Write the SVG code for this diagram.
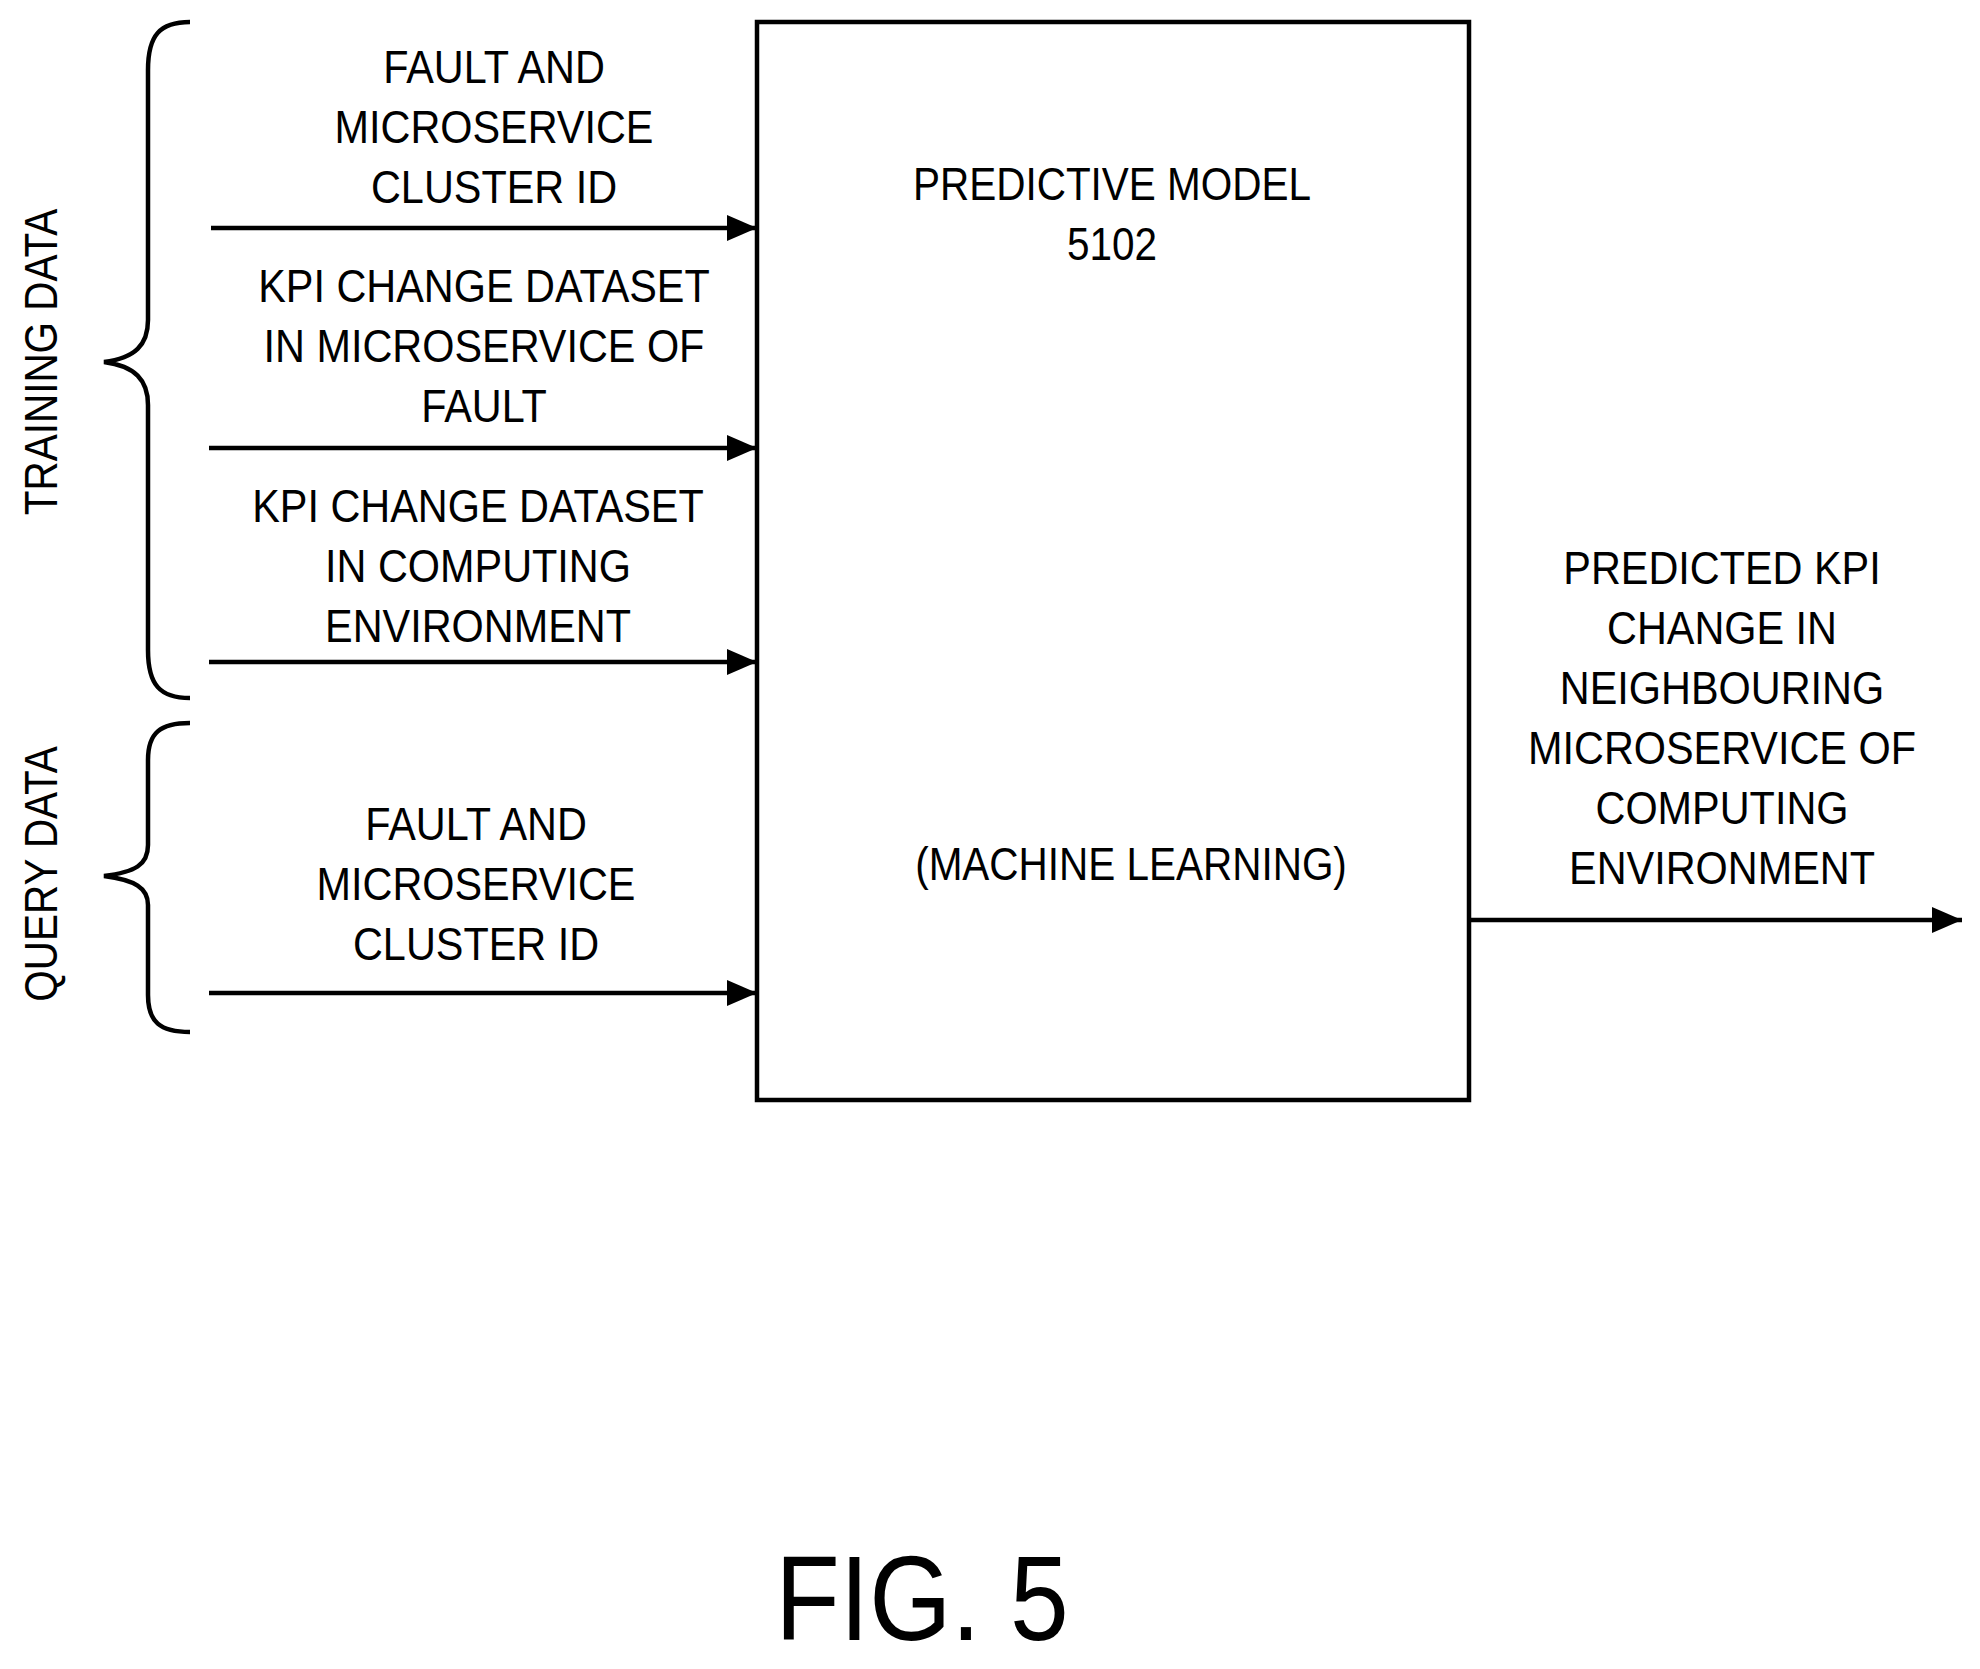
<svg xmlns="http://www.w3.org/2000/svg" width="1980" height="1669" viewBox="0 0 1980 1669">
<style>
text{font-family:"Liberation Sans",Arial,sans-serif;font-size:46px;fill:#000;text-anchor:middle}
.ln{stroke:#000;stroke-width:4.5;fill:none}
</style>
<defs>
<marker id="a" viewBox="0 0 30 26" refX="30" refY="13" markerWidth="30" markerHeight="26" markerUnits="userSpaceOnUse" orient="auto"><path d="M0,0L30,13L0,26z" fill="#000"/></marker></defs>
<rect width="1980" height="1669" fill="#fff"/>
<g id="model"><rect class="ln" x="757" y="22" width="712" height="1078"/>
<text transform="translate(1112,200) scale(0.88,1)">PREDICTIVE MODEL</text>
<text transform="translate(1112,260) scale(0.88,1)">5102</text>
<text transform="translate(1131,880) scale(0.88,1)">(MACHINE LEARNING)</text></g>
<g id="training"><path class="ln" d="M190,22C160,22 148,35 148,70V320C148,345 135,358 104,362C135,366 148,380 148,405V650C148,685 160,698 190,698"/>
<text transform="translate(57,362) rotate(-90) scale(0.88,1)">TRAINING DATA</text></g>
<g id="query"><path class="ln" d="M190,723C160,723 148,733 148,760V845C148,865 135,872 104,876C135,880 148,888 148,905V995C148,1022 160,1032 190,1032"/>
<text transform="translate(57,874) rotate(-90) scale(0.88,1)">QUERY DATA</text></g>
<g id="l1"><text transform="translate(494,83) scale(0.9,1)">FAULT AND</text><text transform="translate(494,143) scale(0.9,1)">MICROSERVICE</text><text transform="translate(494,203) scale(0.9,1)">CLUSTER ID</text></g>
<g id="l2"><text transform="translate(484,302) scale(0.9,1)">KPI CHANGE DATASET</text><text transform="translate(484,362) scale(0.9,1)">IN MICROSERVICE OF</text><text transform="translate(484,422) scale(0.9,1)">FAULT</text></g>
<g id="l3"><text transform="translate(478,522) scale(0.9,1)">KPI CHANGE DATASET</text><text transform="translate(478,582) scale(0.9,1)">IN COMPUTING</text><text transform="translate(478,642) scale(0.9,1)">ENVIRONMENT</text></g>
<g id="l4"><text transform="translate(476,840) scale(0.9,1)">FAULT AND</text><text transform="translate(476,900) scale(0.9,1)">MICROSERVICE</text><text transform="translate(476,960) scale(0.9,1)">CLUSTER ID</text></g>
<g id="out"><text transform="translate(1722,584) scale(0.9,1)">PREDICTED KPI</text><text transform="translate(1722,644) scale(0.9,1)">CHANGE IN</text><text transform="translate(1722,704) scale(0.9,1)">NEIGHBOURING</text><text transform="translate(1722,764) scale(0.9,1)">MICROSERVICE OF</text><text transform="translate(1722,824) scale(0.9,1)">COMPUTING</text><text transform="translate(1722,884) scale(0.9,1)">ENVIRONMENT</text></g>
<g id="connectors">
<line class="ln" x1="211" y1="228" x2="757" y2="228" marker-end="url(#a)"/>
<line class="ln" x1="209" y1="448" x2="757" y2="448" marker-end="url(#a)"/>
<line class="ln" x1="209" y1="662" x2="757" y2="662" marker-end="url(#a)"/>
<line class="ln" x1="209" y1="993" x2="757" y2="993" marker-end="url(#a)"/>
<line class="ln" x1="1469" y1="920" x2="1962" y2="920" marker-end="url(#a)"/>
</g>
<text id="fig" transform="translate(922,1640) scale(0.88,1)" style="font-size:120px">FIG. 5</text>
</svg>
